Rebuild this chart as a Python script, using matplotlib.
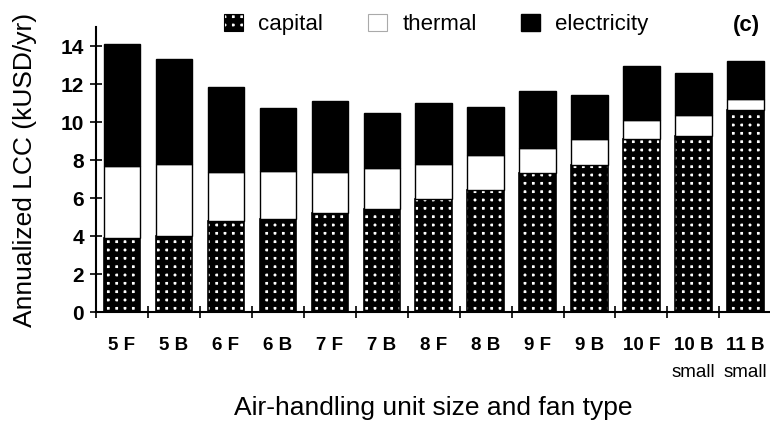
import numpy as np
import matplotlib
matplotlib.use('Agg')
import matplotlib.pyplot as plt
from matplotlib.patches import Patch

plt.rcParams['font.family'] = ['Liberation Sans', 'DejaVu Sans']
plt.rcParams['hatch.linewidth'] = 4.0

units = ['5 F', '5 B', '6 F', '6 B', '7 F', '7 B', '8 F', '8 B', '9 F', '9 B', '10 F', '10 B', '11 B']
sub_labels = ['', '', '', '', '', '', '', '', '', '', '', 'small', 'small']

capital = [3.9, 4.0, 4.8, 4.9, 5.25, 5.45, 5.95, 6.45, 7.35, 7.75, 9.1, 9.3, 10.65]
thermal = [3.8, 3.78, 2.58, 2.53, 2.15, 2.15, 1.87, 1.81, 1.31, 1.38, 1.0, 1.06, 0.55]
electricity = [6.4, 5.55, 4.48, 3.33, 3.74, 2.9, 3.2, 2.55, 2.97, 2.33, 2.85, 2.24, 2.01]

x = np.arange(len(units))
cap = np.array(capital)
th = np.array(thermal)
el = np.array(electricity)

fig = plt.figure(figsize=(7.7, 4.26), dpi=100)
ax = fig.add_axes([0.1247, 0.267, 0.877, 0.669])

w = 0.7
ax.bar(x, cap, w, color='white', edgecolor='black', hatch='++', linewidth=1.2)
ax.bar(x, th, w, bottom=cap, color='white', edgecolor='black', linewidth=1.0)
ax.bar(x, el, w, bottom=cap + th, color='black', edgecolor='black', linewidth=1.0)

ax.set_xlim(-0.5, 12.5)
ax.set_ylim(0, 15)
ax.set_yticks(np.arange(0, 15, 2))
ax.set_xticks(x)
ax.set_xticklabels(units, fontsize=13.5, fontweight='bold')
ax.set_xticks(np.arange(-0.5, 13, 1), minor=True)
ax.tick_params(axis='x', which='major', length=0, pad=18)
ax.tick_params(axis='x', which='minor', direction='inout', length=8, width=1.2)
ax.tick_params(axis='y', direction='inout', length=8, width=1.2, labelsize=15, pad=4.5)
for lab in ax.get_yticklabels():
    lab.set_fontweight('bold')

for sp in ['top', 'right']:
    ax.spines[sp].set_visible(False)
for sp in ['left', 'bottom']:
    ax.spines[sp].set_linewidth(1.5)

# "small" under the last two unit labels
trans = ax.get_xaxis_transform()
for xi, s in zip(x, sub_labels):
    if s:
        ax.text(xi, -0.18, s, transform=trans, ha='center', va='top', fontsize=13.5)

ax.set_ylabel('Annualized LCC (kUSD/yr)', fontsize=19)
ax.yaxis.set_label_coords(-0.087, 0.5)
ax.set_xlabel('Air-handling unit size and fan type', fontsize=19, labelpad=30)

handles = [
    Patch(facecolor='white', edgecolor='black', hatch='++', linewidth=0.8, label='capital'),
    Patch(facecolor='white', edgecolor='#aaaaaa', linewidth=0.8, label='thermal'),
    Patch(facecolor='black', edgecolor='black', label='electricity'),
]
ax.legend(handles=handles, loc='center', bbox_to_anchor=(0.504, 1.01), ncol=3,
          frameon=False, fontsize=16, handlelength=0.85, handleheight=0.85,
          columnspacing=2.0, handletextpad=0.7)
fig.text(0.969, 0.941, '(c)', fontsize=16, fontweight='bold', ha='center', va='center')

fig.savefig('out.png', dpi=100)
